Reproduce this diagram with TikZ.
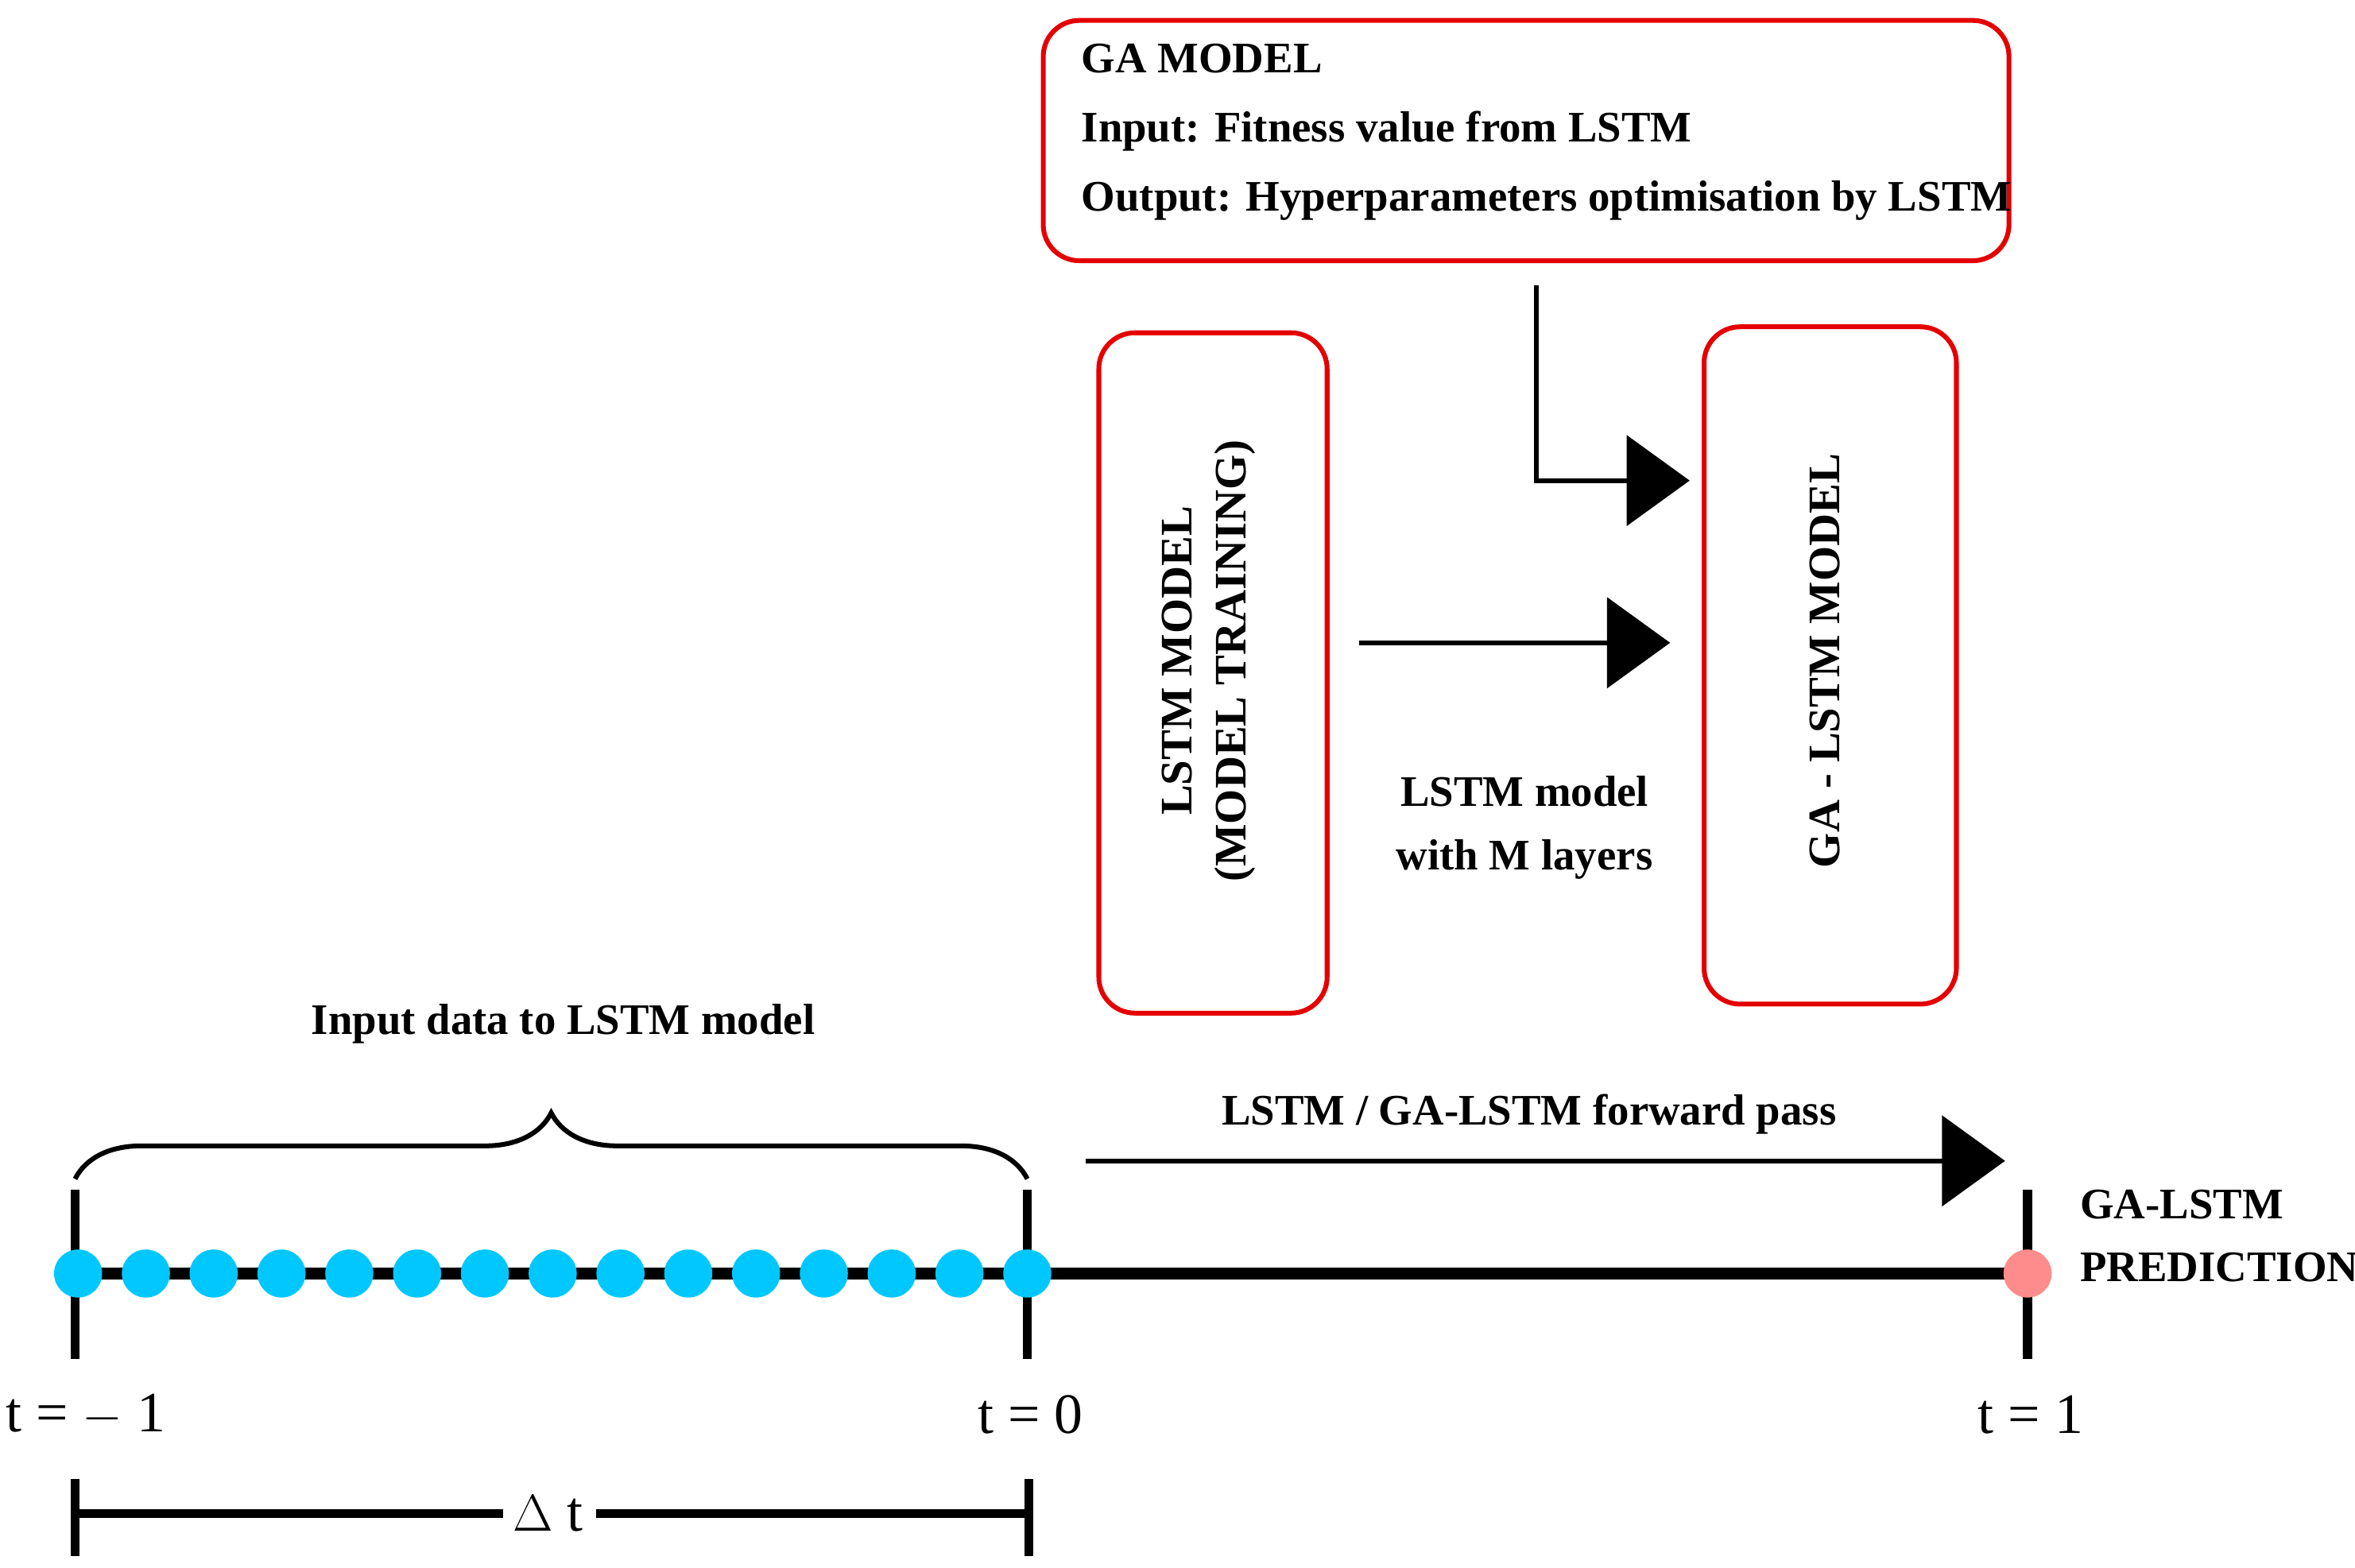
\documentclass[tikz,border=0pt]{standalone}
\usepackage{fontspec}
\setmainfont{Liberation Serif}
\usetikzlibrary{arrows.meta,decorations.pathreplacing}
\definecolor{dotc}{RGB}{0,200,255}
\begin{document}
\begin{tikzpicture}[x=0.5pt,y=-0.5pt,
  rbox/.style={draw=red!90!black,line width=1.6pt,rounded corners=12pt},
  lbl/.style={font=\fontsize{14.5}{17}\selectfont\bfseries},
  tl/.style={font=\fontsize{19}{22}\selectfont},
  big/.style={line width=1.6pt,-{Triangle[length=21pt,width=30pt]}},
  dot/.style={circle,fill=dotc,minimum size=16pt,inner sep=0pt},
  tick/.style={line width=3pt}]
\useasboundingbox (0,0) rectangle (1568,1044);
\node[rbox,minimum width=321.5pt,minimum height=80pt,anchor=north west] (ga) at (693,12) {};
\node[lbl,anchor=west,align=left] (gat) at (713,88) {GA MODEL\\[6pt]Input: Fitness value from LSTM\\[6pt]Output: Hyperparameters optimisation by LSTM};
\node[rbox,minimum width=76pt,minimum height=226.5pt,anchor=north west] (lstm) at (730,220) {};
\node[lbl,rotate=90,align=center,font=\fontsize{15}{18}\selectfont\bfseries] at (805,440) {LSTM MODEL\\(MODEL TRAINING)};
\node[rbox,minimum width=84pt,minimum height=225.5pt,anchor=north west] (gal) at (1133,216) {};
\node[lbl,rotate=90,font=\fontsize{15}{18}\selectfont\bfseries] at (1215,440) {GA - LSTM MODEL};
\coordinate (a1) at (1023,190); \coordinate (a2) at (1023,320); \coordinate (a3) at (1125,320);
\draw[big] (a1) -- (a2) -- (a3);
\coordinate (b1) at (905,428); \coordinate (b2) at (1112,428);
\draw[big] (b1) -- (b2);
\node[lbl,align=center] at (1015,551) {LSTM model\\[4pt]with M layers};
% timeline
\coordinate (L) at (50,848); \coordinate (R) at (1350,848);
\draw[line width=4pt] (L) -- (R);
\draw[tick] (50,792) -- (50,905);
\draw[tick] (684,792) -- (684,905);
\draw[tick] (1350,792) -- (1350,905);
\foreach \i in {0,...,14} \node[dot] (d\i) at ({52+\i*45.14},848) {};
\node[circle,fill=red!45,minimum size=16pt,inner sep=0pt] (p) at (1350,848) {};
\node[tl] at (57,942) {t = $-$ 1};
\node[tl] at (686,942) {t = 0};
\node[tl] at (1352,942) {t = 1};
\node[lbl,anchor=west,align=left] at (1378,823) {GA-LSTM\\[4pt]PREDICTION};
% delta t
\draw[tick] (50,1008) -- (335,1008);
\draw[tick] (397,1008) -- (685,1008);
\draw[tick] (50,985) -- (50,1036);
\draw[tick] (685,985) -- (685,1036);
\node[tl] at (365,1008) {$\Delta$ t};
% brace
\draw[line width=1.6pt,decorate,decoration={brace,amplitude=22pt}] (50,785) -- (684,785);
\node[lbl] at (375,682) {Input data to LSTM model};
% forward pass
\coordinate (f1) at (723,773); \coordinate (f2) at (1335,773);
\draw[big] (f1) -- (f2);
\node[lbl] at (1018,742) {LSTM / GA-LSTM forward pass};
\end{tikzpicture}
\end{document}
